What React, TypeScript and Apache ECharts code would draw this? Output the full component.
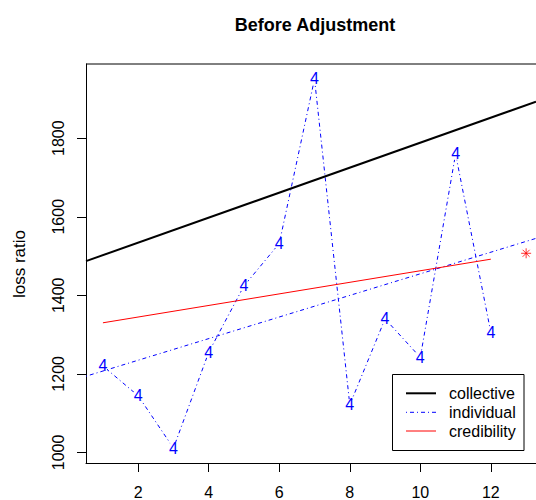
import React, { useEffect, useRef } from "react";
import * as echarts from "echarts";

// ---- data ----
const years = [1, 2, 3, 4, 5, 6, 7, 8, 9, 10, 11, 12];
const individual = [1220, 1144, 1011, 1255, 1424, 1532, 1951, 1121, 1340, 1242, 1760, 1305];
const collectiveX = [0.52, 13.28];
const collectiveY = [1487, 1893];
const indivTrendX = [0.52, 13.28];
const indivTrendY = [1194, 1545];
const credX = [1, 12];
const credY = [1330, 1492];
const forecast = [13, 1507];
const xTicks = [2, 4, 6, 8, 10, 12];
const yTicks = [1000, 1200, 1400, 1600, 1800];
const legendNames = ["collective", "individual", "credibility"];

const FONT = "'Liberation Sans', Arial, Helvetica, sans-serif";
const BLUE = "#0000FF";
const RED = "#FF0000";
const DOTDASH = [1, 3, 4, 3];

export default function App() {
  const ref = useRef<HTMLDivElement>(null);
  useEffect(() => {
    if (!ref.current) return;
    const chart = echarts.init(ref.current, undefined, { renderer: "svg" });
    const pair = (xs: number[], ys: number[]) => xs.map((x, i) => [x, ys[i]]);
    const lx1 = 406, lx2 = 436, ltx = 449;
    const ly = [393.3, 412.3, 431];
    chart.setOption({
      animation: false,
      textStyle: { fontFamily: FONT },
      grid: {
        left: 86,
        top: 64,
        bottom: 37,
        right: 0,
        show: false,
      },
      xAxis: {
        type: "value",
        min: 0.52,
        max: 13.28,
        splitLine: { show: false },
        axisLine: { show: true, lineStyle: { color: "#000", width: 1 } },
        axisTick: { show: true, length: 9, customValues: xTicks, lineStyle: { color: "#000" } },
        axisLabel: {
          customValues: xTicks,
          margin: 21,
          fontSize: 16,
          color: "#000",
          fontFamily: FONT,
          formatter: (v: number) => String(v),
        },
      },
      yAxis: {
        type: "value",
        min: 973,
        max: 1989,
        splitLine: { show: false },
        axisLine: { show: true, lineStyle: { color: "#000", width: 1 } },
        axisTick: { show: true, length: 9, customValues: yTicks, lineStyle: { color: "#000" } },
        axisLabel: {
          customValues: yTicks,
          rotate: 90,
          margin: 20,
          fontSize: 16,
          color: "#000",
          fontFamily: FONT,
          formatter: (v: number) => String(v),
        },
      },
      series: [
        {
          type: "line",
          name: "individual data",
          z: 2,
          data: pair(years, individual),
          lineStyle: { color: BLUE, width: 1, type: DOTDASH },
          symbol: "circle",
          symbolSize: 12,
          showSymbol: true,
          itemStyle: { color: "#fff", borderWidth: 0 },
          label: {
            show: true,
            position: "inside",
            formatter: "4",
            color: BLUE,
            fontSize: 16,
            fontFamily: FONT,
          },
          emphasis: { disabled: true },
        },
        {
          type: "line",
          name: legendNames[0],
          z: 3,
          data: pair(collectiveX, collectiveY),
          symbol: "none",
          lineStyle: { color: "#000", width: 2 },
        },
        {
          type: "line",
          name: legendNames[1],
          z: 3,
          data: pair(indivTrendX, indivTrendY),
          symbol: "none",
          lineStyle: { color: BLUE, width: 1, type: DOTDASH },
        },
        {
          type: "line",
          name: legendNames[2],
          z: 3,
          data: pair(credX, credY),
          symbol: "none",
          lineStyle: { color: RED, width: 1 },
        },
        {
          type: "scatter",
          name: "forecast",
          z: 4,
          data: [forecast],
          symbol: "path://M5 0 L5 10 M0 5 L10 5 M1.5 1.5 L8.5 8.5 M8.5 1.5 L1.5 8.5",
          symbolSize: 10,
          itemStyle: { color: "transparent", borderColor: RED, borderWidth: 1 },
        },
      ],
      graphic: [
        {
          type: "line",
          shape: { x1: 86, y1: 64, x2: 536, y2: 64 },
          style: { stroke: "#000", lineWidth: 1 },
          z: 5,
        },
        {
          type: "text",
          x: 315,
          y: 25,
          style: {
            text: "Before Adjustment",
            fontSize: 18,
            fontWeight: "bold",
            fontFamily: FONT,
            fill: "#000",
            textAlign: "center",
            textVerticalAlign: "middle",
            align: "center",
            verticalAlign: "middle",
          },
        },
        {
          type: "text",
          x: 19,
          y: 264,
          rotation: Math.PI / 2,
          style: {
            text: "loss ratio",
            fontSize: 17,
            fontFamily: FONT,
            fill: "#000",
            textAlign: "center",
            textVerticalAlign: "middle",
            align: "center",
            verticalAlign: "middle",
          },
        },
        {
          type: "rect",
          shape: { x: 392.5, y: 374.5, width: 131.5, height: 76 },
          style: { fill: "#fff", stroke: "#000", lineWidth: 1 },
          z: 10,
        },
        {
          type: "line",
          shape: { x1: lx1, y1: ly[0], x2: lx2, y2: ly[0] },
          style: { stroke: "#000", lineWidth: 2 },
          z: 11,
        },
        {
          type: "line",
          shape: { x1: lx1, y1: ly[1], x2: lx2, y2: ly[1] },
          style: { stroke: BLUE, lineWidth: 1, lineDash: DOTDASH },
          z: 11,
        },
        {
          type: "line",
          shape: { x1: lx1, y1: ly[2], x2: lx2, y2: ly[2] },
          style: { stroke: RED, lineWidth: 1 },
          z: 11,
        },
        ...legendNames.map((n, i) => ({
          type: "text",
          x: ltx,
          y: ly[i],
          z: 11,
          style: {
            text: n,
            fontSize: 16,
            fontFamily: FONT,
            fill: "#000",
            textAlign: "left",
            textVerticalAlign: "middle",
            align: "left",
            verticalAlign: "middle",
          },
        })),
      ],
    });
    return () => chart.dispose();
  }, []);
  return (
    <div
      ref={ref}
      style={{ position: "fixed", left: 0, top: 0, width: 536, height: 500, background: "#fff" }}
    />
  );
}
